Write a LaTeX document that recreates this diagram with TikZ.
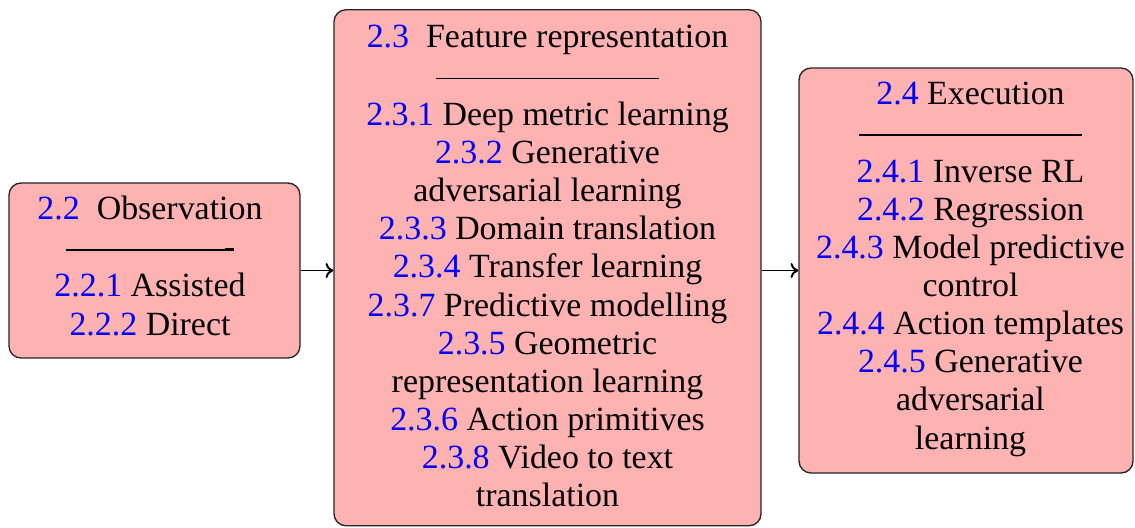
\documentclass[tikz,border=0pt]{standalone}
\usepackage{fontspec}
\setmainfont{Liberation Serif}
\newcommand{\secnum}[1]{\textcolor{blue}{#1}}
\newcommand{\sepline}{\rule{74.3pt}{0.6pt}}
\tikzset{
  panel/.style={draw=black!85, line width=0.45pt, fill=red!30, rounded corners=4pt, inner sep=0pt},
  paneltext/.style={align=center, inner sep=0pt, anchor=base, font=\fontsize{11.3}{12.7}\selectfont},
  flow/.style={-{To[length=2.6pt,width=5pt]}, line width=0.65pt}
}
\usetikzlibrary{arrows.meta}
\begin{document}
\begin{tikzpicture}[x=0.33333pt, y=-0.33333pt]
\useasboundingbox (0,0) rectangle (1135,527);

% the three stages
\node[panel, minimum width=97pt, minimum height=58.33pt] (obs) at (154.5,270.5) {};
\node[panel, minimum width=142.33pt, minimum height=172pt] (feat) at (547.5,267.75) {};
\node[panel, minimum width=111.33pt, minimum height=135pt] (exec) at (966,270.5) {};

% their contents
\node[paneltext] (obsT) at (150,335) {\secnum{2.2}\enskip Observation\\[-2.25pt]
  \rule{53.3pt}{0.5pt}\rule{3pt}{0.9pt}\\[2.7pt]
  \secnum{2.2.1} Assisted\\
  \secnum{2.2.2} Direct};

\node[paneltext] (featT) at (547.5,506.5) {\secnum{2.3}\enskip Feature representation\\[-2.25pt]
  \sepline\\[2.7pt]
  \secnum{2.3.1} Deep metric learning\\
  \secnum{2.3.2} Generative\\
  adversarial learning\\
  \secnum{2.3.3} Domain translation\\
  \secnum{2.3.4} Transfer learning\\
  \secnum{2.3.7} Predictive modelling\\
  \secnum{2.3.5} Geometric\\
  representation learning\\
  \secnum{2.3.6} Action primitives\\
  \secnum{2.3.8} Video to text\\
  translation};

\node[paneltext] (execT) at (970.5,449) {\secnum{2.4} Execution\\[-2.25pt]
  \sepline\\[2.7pt]
  \secnum{2.4.1} Inverse RL\\
  \secnum{2.4.2} Regression\\
  \secnum{2.4.3} Model predictive\\
  control\\
  \secnum{2.4.4} Action templates\\
  \secnum{2.4.5} Generative\\
  adversarial\\
  learning};

% flow between stages
\draw[flow] (obs.east) -- (obs.east -| feat.west);
\draw[flow] (feat.east |- exec.west) -- (exec.west);
\end{tikzpicture}
\end{document}
